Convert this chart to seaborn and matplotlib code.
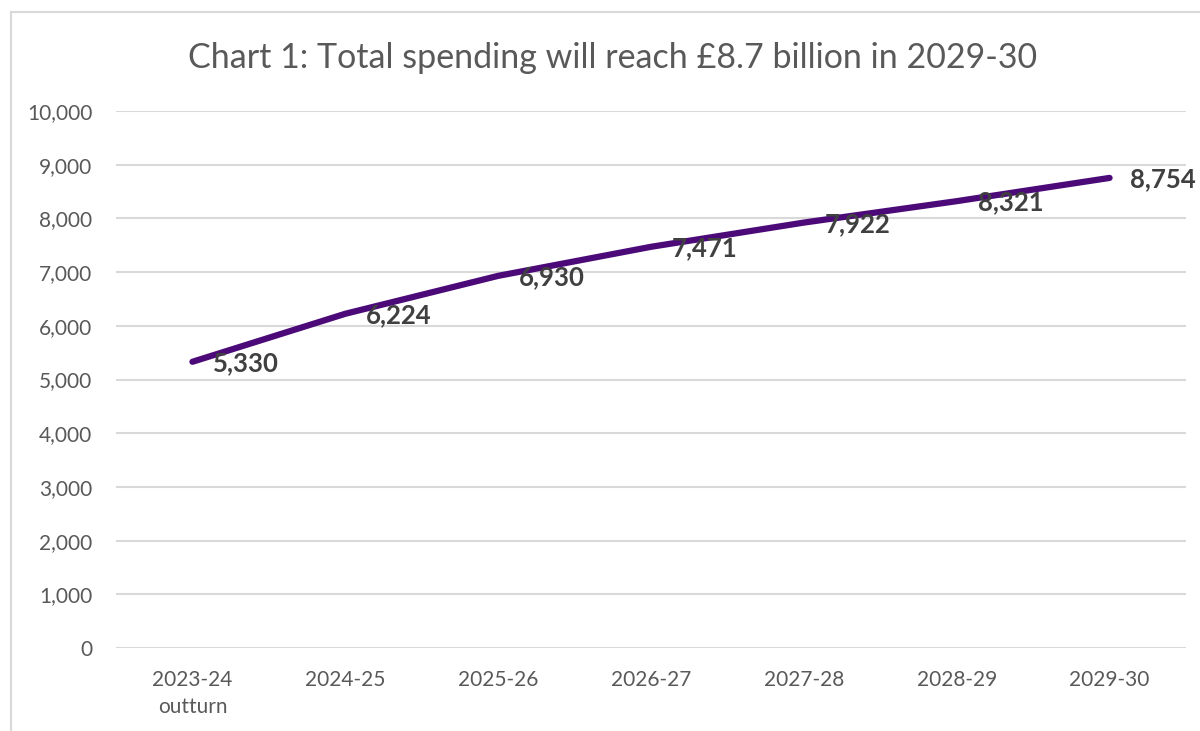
import numpy as np
import pandas as pd
import matplotlib
matplotlib.use("Agg")
import matplotlib.pyplot as plt
from matplotlib.patches import Rectangle
import seaborn as sns

years = ["2023-24\noutturn", "2024-25", "2025-26", "2026-27", "2027-28", "2028-29", "2029-30"]
spending = [5330, 6224, 6930, 7471, 7922, 8321, 8754]
y_ticks = [0, 1000, 2000, 3000, 4000, 5000, 6000, 7000, 8000, 9000, 10000]

sns.set_theme(style="white")
plt.rcParams["font.family"] = ["Lato", "DejaVu Sans"]

df = pd.DataFrame({"pos": np.arange(len(years)), "spending": spending})

fig = plt.figure(figsize=(12, 7.31), dpi=100)
ax = fig.add_axes([116 / 1200, 1 - 648 / 731, 1070 / 1200, 537 / 731])

# light frame round the chart area
fig.patches.append(Rectangle((10.5 / 1200, -0.1), 2.0, 1.1 - 12.5 / 731,
                             transform=fig.transFigure, fill=False,
                             edgecolor="#d9d9d9", linewidth=1.5, zorder=0))

for t in y_ticks:
    ax.axhline(t, color="#d9d9d9", linewidth=1.5, zorder=0)

sns.lineplot(data=df, x="pos", y="spending", ax=ax, color="#4b0a78",
             linewidth=4.5, solid_capstyle="round", zorder=3)

for i, v in enumerate(spending):
    ax.annotate(f"{v:,}", (i, v), xytext=(15, -1), textcoords="offset points",
                ha="left", va="center", fontsize=18.5, fontweight="bold",
                color="#404040", zorder=4, annotation_clip=False)

ax.set_xlim(-0.5, len(years) - 0.5)
ax.set_ylim(0, 10000)
ax.set_xticks(df["pos"])
ax.set_xticklabels(years, fontsize=15, color="#595959", linespacing=1.45)
ax.set_yticks(y_ticks)
ax.set_yticklabels([f"{t:,}" for t in y_ticks], fontsize=15, color="#595959")
ax.tick_params(axis="x", length=0, pad=16)
ax.tick_params(axis="y", length=0, pad=17)
ax.set_xlabel("")
ax.set_ylabel("")
for s in ax.spines.values():
    s.set_visible(False)
ax.grid(False)

fig.text(613 / 1200, 1 - 58 / 731,
         "Chart 1: Total spending will reach £8.7 billion in 2029-30",
         ha="center", va="center", fontsize=24.5, color="#595959")

fig.savefig("out.png", dpi=100, facecolor="white")
